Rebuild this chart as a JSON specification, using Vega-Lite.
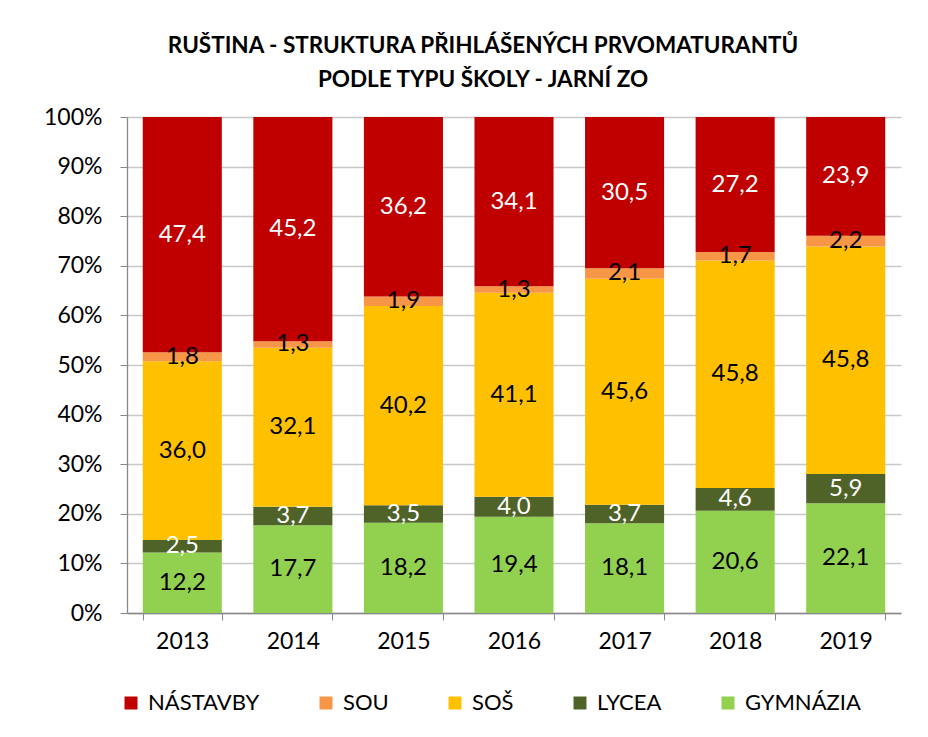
{
  "$schema": "https://vega.github.io/schema/vega-lite/v6.json",
  "width": 774,
  "height": 496,
  "autosize": {"type": "none"},
  "padding": {"left": 127, "top": 117, "right": 27, "bottom": 124},
  "background": "white",
  "title": {
    "text": ["RUŠTINA - STRUKTURA PŘIHLÁŠENÝCH PRVOMATURANTŮ", "PODLE TYPU ŠKOLY - JARNÍ ZO"],
    "anchor": "middle",
    "frame": "group",
    "dx": -31,
    "offset": 15,
    "font": "Lato",
    "fontSize": 22.5,
    "fontWeight": "bold",
    "color": "#000000",
    "lineHeight": 34
  },
  "data": {
    "values": [
      {"rok": "2013", "typ": "GYMNÁZIA", "poradi": 1, "podil": 12.2},
      {"rok": "2013", "typ": "LYCEA", "poradi": 2, "podil": 2.5},
      {"rok": "2013", "typ": "SOŠ", "poradi": 3, "podil": 36.0},
      {"rok": "2013", "typ": "SOU", "poradi": 4, "podil": 1.8},
      {"rok": "2013", "typ": "NÁSTAVBY", "poradi": 5, "podil": 47.4},
      {"rok": "2014", "typ": "GYMNÁZIA", "poradi": 1, "podil": 17.7},
      {"rok": "2014", "typ": "LYCEA", "poradi": 2, "podil": 3.7},
      {"rok": "2014", "typ": "SOŠ", "poradi": 3, "podil": 32.1},
      {"rok": "2014", "typ": "SOU", "poradi": 4, "podil": 1.3},
      {"rok": "2014", "typ": "NÁSTAVBY", "poradi": 5, "podil": 45.2},
      {"rok": "2015", "typ": "GYMNÁZIA", "poradi": 1, "podil": 18.2},
      {"rok": "2015", "typ": "LYCEA", "poradi": 2, "podil": 3.5},
      {"rok": "2015", "typ": "SOŠ", "poradi": 3, "podil": 40.2},
      {"rok": "2015", "typ": "SOU", "poradi": 4, "podil": 1.9},
      {"rok": "2015", "typ": "NÁSTAVBY", "poradi": 5, "podil": 36.2},
      {"rok": "2016", "typ": "GYMNÁZIA", "poradi": 1, "podil": 19.4},
      {"rok": "2016", "typ": "LYCEA", "poradi": 2, "podil": 4.0},
      {"rok": "2016", "typ": "SOŠ", "poradi": 3, "podil": 41.1},
      {"rok": "2016", "typ": "SOU", "poradi": 4, "podil": 1.3},
      {"rok": "2016", "typ": "NÁSTAVBY", "poradi": 5, "podil": 34.1},
      {"rok": "2017", "typ": "GYMNÁZIA", "poradi": 1, "podil": 18.1},
      {"rok": "2017", "typ": "LYCEA", "poradi": 2, "podil": 3.7},
      {"rok": "2017", "typ": "SOŠ", "poradi": 3, "podil": 45.6},
      {"rok": "2017", "typ": "SOU", "poradi": 4, "podil": 2.1},
      {"rok": "2017", "typ": "NÁSTAVBY", "poradi": 5, "podil": 30.5},
      {"rok": "2018", "typ": "GYMNÁZIA", "poradi": 1, "podil": 20.6},
      {"rok": "2018", "typ": "LYCEA", "poradi": 2, "podil": 4.6},
      {"rok": "2018", "typ": "SOŠ", "poradi": 3, "podil": 45.8},
      {"rok": "2018", "typ": "SOU", "poradi": 4, "podil": 1.7},
      {"rok": "2018", "typ": "NÁSTAVBY", "poradi": 5, "podil": 27.2},
      {"rok": "2019", "typ": "GYMNÁZIA", "poradi": 1, "podil": 22.1},
      {"rok": "2019", "typ": "LYCEA", "poradi": 2, "podil": 5.9},
      {"rok": "2019", "typ": "SOŠ", "poradi": 3, "podil": 45.8},
      {"rok": "2019", "typ": "SOU", "poradi": 4, "podil": 2.2},
      {"rok": "2019", "typ": "NÁSTAVBY", "poradi": 5, "podil": 23.9}
    ]
  },
  "encoding": {
    "x": {
      "field": "rok",
      "type": "nominal",
      "title": null,
      "scale": {"paddingInner": 0.285, "paddingOuter": 0.1425},
      "axis": {
        "labelAngle": 0,
        "tickBand": "extent",
        "domainColor": "#888888",
        "tickColor": "#888888",
        "tickSize": 7,
        "labelPadding": 10,
        "labelFontSize": 23,
        "grid": false
      }
    },
    "y": {
      "field": "podil",
      "type": "quantitative",
      "stack": "normalize",
      "title": null,
      "scale": {"domain": [0, 1]},
      "axis": {
        "values": [0, 0.1, 0.2, 0.3, 0.4, 0.5, 0.6, 0.7, 0.8, 0.9, 1],
        "format": ".0%",
        "grid": true,
        "gridColor": "#c8c8c8",
        "gridWidth": 1.6,
        "domainColor": "#888888",
        "tickColor": "#888888",
        "tickSize": 7,
        "labelPadding": 18,
        "labelFontSize": 23
      }
    },
    "order": {"field": "poradi", "type": "quantitative"}
  },
  "layer": [
    {
      "mark": {"type": "bar"},
      "encoding": {
        "color": {
          "field": "typ",
          "type": "nominal",
          "scale": {
            "domain": ["NÁSTAVBY", "SOU", "SOŠ", "LYCEA", "GYMNÁZIA"],
            "range": ["#C00000", "#F79646", "#FFC000", "#4F6228", "#92D050"]
          },
          "legend": {
            "title": null,
            "orient": "none",
            "direction": "horizontal",
            "legendX": -7,
            "legendY": 575,
            "symbolType": "square",
            "symbolSize": 169,
            "symbolStrokeWidth": 0,
            "labelFont": "Lato",
            "labelFontSize": 22,
            "labelColor": "#000000",
            "labelOffset": 6,
            "columnPadding": 55
          }
        }
      }
    },
    {
      "mark": {"type": "text", "font": "Lato", "fontSize": 24, "baseline": "middle"},
      "encoding": {
        "y": {"field": "podil", "type": "quantitative", "stack": "normalize", "bandPosition": 0.5},
        "text": {"field": "podil", "type": "quantitative", "format": ".1f"},
        "color": {
          "condition": {"test": "datum.typ === 'NÁSTAVBY' || datum.typ === 'LYCEA'", "value": "#ffffff"},
          "value": "#000000"
        }
      }
    }
  ],
  "config": {
    "locale": {"number": {"decimal": ",", "thousands": " ", "grouping": [3], "currency": ["", " Kč"]}},
    "view": {"stroke": null},
    "axis": {"labelFont": "Lato", "labelFontSize": 22, "labelColor": "#000000", "domainWidth": 1.3}
  }
}
